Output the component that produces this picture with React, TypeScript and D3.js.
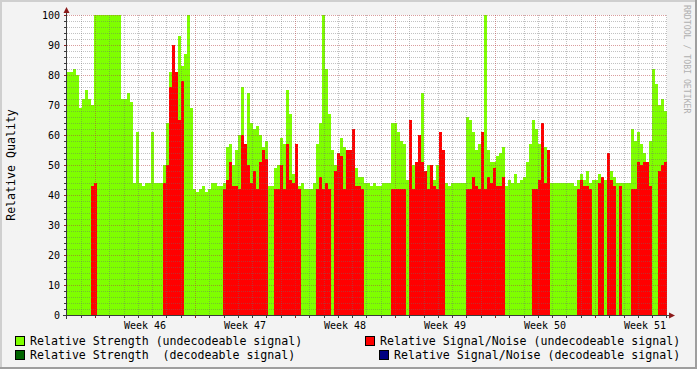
import React from "react";
import * as d3 from "d3";

const W = 697;
const H = 369;

// Relative Strength (undecodeable signal), one value per time slot
const strength = [
  81, 81, 82, 80, 69, 72, 75, 72, 70, 100,
  100, 100, 100, 100, 100, 100, 100, 100, 72, 72,
  74, 71, 44, 61, 44, 43, 44, 44, 61, 44,
  44, 44, 50, 64, 81, 81, 80, 93, 83, 87,
  100, 69, 42, 41, 42, 43, 41, 42, 44, 44,
  43, 43, 44, 56, 57, 50, 55, 60, 76, 57,
  74, 64, 62, 63, 60, 56, 58, 43, 43, 49,
  50, 59, 57, 75, 67, 47, 48, 43, 44, 42,
  42, 42, 44, 57, 64, 100, 82, 67, 55, 50,
  53, 59, 56, 54, 55, 53, 49, 46, 46, 44,
  44, 43, 44, 43, 43, 44, 44, 44, 64, 64,
  61, 58, 57, 45, 47, 50, 51, 47, 74, 48,
  50, 47, 45, 50, 53, 47, 44, 43, 44, 44,
  44, 44, 44, 66, 65, 61, 55, 57, 57, 100,
  55, 51, 51, 53, 54, 56, 43, 45, 44, 47,
  44, 45, 46, 51, 57, 65, 62, 57, 55, 56,
  51, 44, 44, 44, 44, 44, 44, 44, 44, 43,
  45, 47, 45, 48, 44, 45, 45, 47, 46, 45,
  46, 48, 46, 44, 44, 44, 44, 44, 62, 58,
  61, 57, 54, 48, 58, 82, 77, 70, 72, 68,
];

// Relative Signal/Noise (undecodeable signal), 0 = no value
const signalNoise = [
  0, 0, 0, 0, 0, 0, 0, 0, 43, 44,
  0, 0, 0, 0, 0, 0, 0, 0, 0, 0,
  0, 0, 0, 0, 0, 0, 0, 0, 0, 0,
  0, 0, 44, 50, 76, 90, 81, 65, 78, 0,
  0, 0, 0, 0, 0, 0, 0, 0, 0, 0,
  0, 0, 42, 45, 51, 43, 43, 42, 60, 57,
  50, 44, 48, 42, 51, 55, 52, 0, 0, 42,
  42, 50, 42, 57, 45, 44, 57, 42, 0, 0,
  0, 0, 0, 42, 46, 42, 44, 42, 0, 48,
  54, 53, 42, 55, 55, 62, 43, 43, 42, 0,
  0, 0, 0, 0, 0, 0, 0, 0, 42, 42,
  42, 42, 42, 0, 65, 42, 51, 60, 51, 48,
  42, 50, 43, 42, 61, 55, 0, 0, 0, 0,
  0, 0, 0, 42, 42, 46, 43, 42, 61, 42,
  46, 44, 49, 43, 43, 46, 0, 0, 0, 0,
  0, 0, 0, 0, 0, 42, 42, 45, 64, 44,
  55, 0, 0, 0, 0, 0, 0, 0, 0, 0,
  42, 45, 43, 43, 42, 0, 0, 44, 46, 0,
  54, 45, 43, 0, 43, 0, 0, 0, 42, 42,
  51, 50, 51, 51, 43, 0, 0, 48, 50, 51,
];

const yTicks = [0, 10, 20, 30, 40, 50, 60, 70, 80, 90, 100];
const weekLabels = ["Week 46", "Week 47", "Week 48", "Week 49", "Week 50", "Week 51"];
const legendLabels = [
  "Relative Strength (undecodeable signal)",
  "Relative Signal/Noise (undecodeable signal)",
  "Relative Strength  (decodeable signal)",
  "Relative Signal/Noise (decodeable signal)",
];
const legendColors = ["#7fff00", "#ff0000", "#006400", "#000080"];

const FONT = "'DejaVu Sans Mono', monospace";

export default function App() {
  const left = 67, right = 667, top = 15, bottom = 315;
  const x = d3.scaleLinear().domain([0, strength.length]).range([left, right]);
  const y = d3.scaleLinear().domain([0, 100]).range([bottom, top]);
  // time in days across the graph (6 weeks)
  const xd = d3.scaleLinear().domain([0, 42]).range([left, right]);
  const firstMonday = 1.96;

  const dayLines: number[] = [];
  for (let d = firstMonday - 1; d <= 42.01; d += 1) {
    const px = xd(d);
    if (px > left + 0.5 && px <= right) dayLines.push(d);
  }
  const weekLines = weekLabels.map((_, i) => firstMonday + 7 * i);
  const hLines = d3.range(2, 101, 2);

  const minorCol = "rgba(110,110,110,0.42)";
  const majorCol = "rgba(180,60,60,0.5)";
  const axisCol = "#3a3a3a";
  const arrowCol = "#8b1a1a";

  return (
    <svg
      width={W}
      height={H}
      style={{ position: "fixed", left: 0, top: 0, display: "block" }}
      fontFamily={FONT}
    >
      <rect x={0} y={0} width={W} height={H} fill="#f3f3f3" />
      {/* frame shading */}
      <rect x={0} y={0} width={W} height={2} fill="#cfcfcf" />
      <rect x={0} y={0} width={2} height={H} fill="#cfcfcf" />
      <rect x={0} y={H - 2} width={W} height={2} fill="#9e9e9e" />
      <rect x={W - 2} y={0} width={2} height={H} fill="#9e9e9e" />

      {/* plot canvas */}
      <rect x={left} y={top} width={right - left} height={bottom - top} fill="#ffffff" />

      <g shapeRendering="crispEdges">
        {strength.map((v, i) => (
          <rect
            key={"g" + i}
            x={x(i)}
            y={y(v)}
            width={x(i + 1) - x(i)}
            height={y(0) - y(v)}
            fill="#7fff00"
          />
        ))}
        {signalNoise.map((v, i) =>
          v > 0 ? (
            <rect
              key={"r" + i}
              x={x(i)}
              y={y(v)}
              width={x(i + 1) - x(i)}
              height={y(0) - y(v)}
              fill="#ff0000"
            />
          ) : null
        )}
      </g>

      {/* grid */}
      <g>
        {hLines.map((v) => (
          <line
            key={"h" + v}
            x1={left}
            x2={right}
            y1={Math.round(y(v)) + 0.5}
            y2={Math.round(y(v)) + 0.5}
            stroke={v % 10 === 0 ? majorCol : minorCol}
            strokeWidth={1}
            strokeDasharray="1 1"
          />
        ))}
        {dayLines.map((d) => {
          const isMajor = weekLines.some((w) => Math.abs(w - d) < 0.01);
          const px = Math.round(xd(d)) + 0.5;
          return (
            <line
              key={"v" + d}
              x1={px}
              x2={px}
              y1={top}
              y2={bottom}
              stroke={isMajor ? majorCol : minorCol}
              strokeWidth={1}
              strokeDasharray="1 1"
            />
          );
        })}
      </g>

      {/* axes */}
      <g shapeRendering="crispEdges">
        <line x1={63} x2={671} y1={bottom + 0.5} y2={bottom + 0.5} stroke={axisCol} />
        <line x1={left - 0.5} x2={left - 0.5} y1={bottom + 4} y2={11} stroke={axisCol} />
        {hLines.map((v) => (
          <line
            key={"yt" + v}
            x1={left - 3}
            x2={left - 1}
            y1={Math.round(y(v)) + 0.5}
            y2={Math.round(y(v)) + 0.5}
            stroke={v % 10 === 0 ? arrowCol : axisCol}
          />
        ))}
        {dayLines.map((d) => {
          const px = Math.round(xd(d)) + 0.5;
          const isMajor = weekLines.some((w) => Math.abs(w - d) < 0.01);
          return (
            <line
              key={"xt" + d}
              x1={px}
              x2={px}
              y1={bottom + 1}
              y2={bottom + 3}
              stroke={isMajor ? arrowCol : axisCol}
            />
          );
        })}
      </g>
      <path d={`M${left - 3.5},13 L${left - 0.5},7 L${left + 2.5},13 Z`} fill={arrowCol} />
      <path d={`M669,${bottom - 2.5} L675,${bottom + 0.5} L669,${bottom + 3.5} Z`} fill={arrowCol} />

      {/* y labels */}
      {yTicks.map((v) => (
        <text
          key={"yl" + v}
          x={60}
          y={y(v)}
          dy="0.36em"
          textAnchor="end"
          fontSize={10}
          fill="#000"
        >
          {v}
        </text>
      ))}
      {/* x labels */}
      {weekLabels.map((w, i) => (
        <text
          key={w}
          x={xd(firstMonday + 7 * i + 3.5)}
          y={328.5}
          textAnchor="middle"
          fontSize={10}
          fill="#000"
        >
          {w}
        </text>
      ))}

      {/* vertical title */}
      <text
        transform={`translate(15,${(top + bottom) / 2}) rotate(-90)`}
        textAnchor="middle"
        fontSize={11.6}
        fill="#000"
      >
        Relative Quality
      </text>

      {/* watermark */}
      <text
        transform="translate(683.5,5) rotate(90)"
        fontSize={8.2}
        fill="#b0b0b0"
        style={{ whiteSpace: "pre" }}
      >
        RRDTOOL / TOBI OETIKER
      </text>

      {/* legend */}
      {legendLabels.map((lab, i) => {
        const row = Math.floor(i / 2);
        const col = i % 2;
        const bx = col === 0 ? 15 : row === 0 ? 365 : 379;
        const by = row === 0 ? 336.5 : 350.5;
        return (
          <g key={lab}>
            <rect x={bx + 0.5} y={by} width={9} height={9} fill={legendColors[i]} stroke="#000" />
            <text
              x={bx + 15}
              y={row === 0 ? 345.3 : 358.6}
              fontSize={11.6}
              fill="#000"
              style={{ whiteSpace: "pre" }}
            >
              {lab}
            </text>
          </g>
        );
      })}
    </svg>
  );
}
